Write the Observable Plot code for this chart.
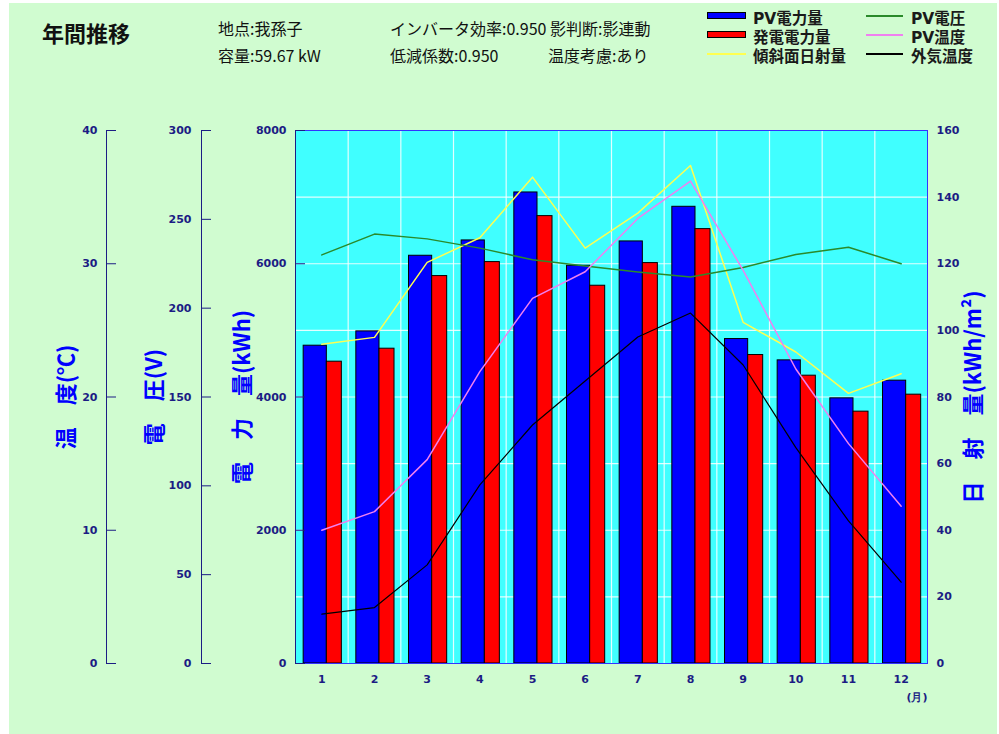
<!DOCTYPE html>
<html><head><meta charset="utf-8">
<script src="https://cdn.jsdelivr.net/npm/d3@7"></script>
<script src="https://cdn.jsdelivr.net/npm/@observablehq/plot@0.6"></script>
<style>
html,body{margin:0;padding:0;background:#fff;overflow:hidden;}
#wrap{position:relative;width:999px;height:734px;overflow:hidden;font-family:"Noto Sans CJK JP","Noto Sans",sans-serif;}
#bg{position:absolute;left:9px;top:3px;width:988px;height:731px;background:#d0fcd0;}
.layer{position:absolute;left:0;top:0;}
.t{position:absolute;white-space:nowrap;line-height:1;color:#111;}
.lg{position:absolute;white-space:nowrap;line-height:1;color:#1a1a1a;font-family:"DejaVu Sans","Noto Sans CJK JP",sans-serif;font-weight:bold;font-size:15.5px;}
.ylab{position:absolute;white-space:nowrap;line-height:1;color:#0000ff;font-weight:bold;font-size:22px;transform:translate(-50%,-50%) rotate(-90deg);}
.sw{position:absolute;box-sizing:border-box;}
</style></head><body>
<div id="wrap">
<div id="bg"></div>
<div class="t" style="left:42px;top:21px;font-size:22px;font-weight:bold">年間推移</div>
<div class="t" style="left:218px;top:20px;font-size:16px">地点:我孫子</div>
<div class="t" style="left:218px;top:47px;font-size:16px">容量:59.67 kW</div>
<div class="t" style="left:390px;top:20px;font-size:16px">インバータ効率:0.950 影判断:影連動</div>
<div class="t" style="left:390px;top:47px;font-size:16px">低減係数:0.950</div>
<div class="t" style="left:548px;top:47px;font-size:16px">温度考慮:あり</div>
</div>
<script>
// ---- data ----
const months = [1, 2, 3, 4, 5, 6, 7, 8, 9, 10, 11, 12];
const pvPower = [4770, 4985, 6120, 6350, 7070, 5970, 6335, 6855, 4870, 4550, 3980, 4245];      // PV電力量 kWh
const genPower = [4530, 4725, 5815, 6025, 6715, 5670, 6010, 6520, 4630, 4320, 3780, 4035];     // 発電電力量 kWh
const irradiance = [95.8, 97.9, 120.4, 127.8, 146.0, 124.7, 135.2, 149.5, 102.4, 93.5, 81.1, 87.0]; // 傾斜面日射量 kWh/m2
const pvVoltage = [230.0, 241.7, 239.0, 233.8, 227.2, 223.7, 220.3, 217.5, 222.9, 230.2, 234.3, 225.0]; // PV電圧 V
const pvTemp = [10.0, 11.4, 15.3, 21.9, 27.4, 29.4, 33.4, 36.2, 29.5, 22.1, 16.5, 11.8];       // PV温度 ℃
const airTemp = [3.7, 4.2, 7.4, 13.4, 17.9, 21.2, 24.5, 26.3, 22.4, 16.2, 10.7, 6.1];          // 外気温度 ℃

const powerTicks = [0, 2000, 4000, 6000, 8000];
const voltTicks = [0, 50, 100, 150, 200, 250, 300];
const tempTicks = [0, 10, 20, 30, 40];
const irrTicks = [0, 20, 40, 60, 80, 100, 120, 140, 160];

const legendLabels = [["PV電力量", "発電電力量", "傾斜面日射量"], ["PV電圧", "PV温度", "外気温度"]];
const axisTitles = ["温　度(℃)", "電　圧(V)", "電　力　量(kWh)", "日　射　量(kWh/m²)"];

const table = months.map((m, i) => ({
  month: m, pv: pvPower[i], gen: genPower[i], irr: irradiance[i],
  volt: pvVoltage[i], ptemp: pvTemp[i], atemp: airTemp[i]
}));

// ---- layout ----
const W = 999, H = 734, MT = 130, MB = 71, PL = 295, PR = 72;
const NAVY = "#1c1c84";
const style = {background: "transparent", color: NAVY, fontFamily: "DejaVu Sans, sans-serif",
  fontSize: "11px", fontWeight: "bold", overflow: "visible"};
const xOpt = {type: "linear", domain: [0.5, 12.5], label: null};
const wrap = document.getElementById("wrap");
function addLayer(el) { el.classList.add("layer"); wrap.appendChild(el); }
const fmt = d => String(d);

// main: bars + grid + x axis
addLayer(Plot.plot({
  width: W, height: H, marginTop: MT, marginBottom: MB, marginLeft: PL, marginRight: PR,
  style, x: xOpt, y: {domain: [0, 8000], axis: null, label: null},
  marks: [
    Plot.frame({fill: "#40ffff"}),
    Plot.ruleY(d3.range(1000, 8000, 1000), {stroke: "#ffffff", strokeWidth: 1.2, strokeOpacity: 0.85}),
    Plot.ruleX(d3.range(1.5, 12.5, 1), {stroke: "#ffffff", strokeWidth: 1.2, strokeOpacity: 0.85}),
    Plot.rect(table, {x1: d => d.month - 0.345, x2: d => d.month + 0.095, y1: 0, y2: "pv",
      fill: "#0000ff", stroke: "#000", strokeWidth: 1}),
    Plot.rect(table, {x1: d => d.month + 0.095, x2: d => d.month + 0.38, y1: 0, y2: "gen",
      fill: "#ff0000", stroke: "#000", strokeWidth: 1}),
    Plot.axisX(months, {tickSize: 0, tickPadding: 12, tickFormat: fmt, label: null}),
    Plot.text(["(月)"], {frameAnchor: "bottom-right", dy: 34, lineAnchor: "middle", fill: NAVY})
  ]
}));

// irradiance line + right axis
addLayer(Plot.plot({
  width: W, height: H, marginTop: MT, marginBottom: MB, marginLeft: PL, marginRight: PR,
  style, x: {...xOpt, axis: null}, y: {domain: [0, 160], axis: null, label: null},
  marks: [
    Plot.axisY(irrTicks, {anchor: "right", tickSize: 0, tickPadding: 9, tickFormat: fmt, label: null}),
    Plot.line(table, {x: "month", y: "irr", stroke: "#ffff50", strokeWidth: 1.5})
  ]
}));
// voltage line
addLayer(Plot.plot({
  width: W, height: H, marginTop: MT, marginBottom: MB, marginLeft: PL, marginRight: PR,
  style, x: {...xOpt, axis: null}, y: {domain: [0, 300], axis: null, label: null},
  marks: [Plot.line(table, {x: "month", y: "volt", stroke: "#2a8a2a", strokeWidth: 1.5})]
}));
// temperature lines
addLayer(Plot.plot({
  width: W, height: H, marginTop: MT, marginBottom: MB, marginLeft: PL, marginRight: PR,
  style, x: {...xOpt, axis: null}, y: {domain: [0, 40], axis: null, label: null},
  marks: [
    Plot.line(table, {x: "month", y: "ptemp", stroke: "#f080f0", strokeWidth: 1.5}),
    Plot.line(table, {x: "month", y: "atemp", stroke: "#000000", strokeWidth: 1.2})
  ]
}));
// plot border on top
addLayer(Plot.plot({
  width: W, height: H, marginTop: MT, marginBottom: MB, marginLeft: PL, marginRight: PR,
  style, x: {...xOpt, axis: null}, y: {domain: [0, 8000], axis: null, label: null},
  marks: [Plot.frame({stroke: "#3333ff"})]
}));

// left side axes
function sideAxis(left, domain, ticks, pad) {
  return Plot.plot({
    width: W, height: H, marginTop: MT, marginBottom: MB, marginLeft: left, marginRight: W - left - 10,
    style, x: {domain: [0, 1], axis: null, label: null}, y: {domain, axis: null, label: null},
    marks: [
      Plot.ruleX([0], {stroke: NAVY}),
      Plot.tickY(ticks, {y: d => d, stroke: NAVY}),
      Plot.axisY(ticks, {anchor: "left", tickSize: 0, tickPadding: pad, tickFormat: fmt, label: null})
    ]
  });
}
addLayer(sideAxis(106, [0, 40], tempTicks, 9));
addLayer(sideAxis(201, [0, 300], voltTicks, 10));
addLayer(sideAxis(PL, [0, 8000], powerTicks, 9));

// axis titles
const titleX = [64, 152, 240, 971];
axisTitles.forEach((t, i) => {
  const d = document.createElement("div");
  d.className = "ylab";
  d.textContent = t;
  d.style.left = titleX[i] + "px";
  d.style.top = (MT + (H - MB - MT) / 2) + "px";
  wrap.appendChild(d);
});

// legend
const legendStyles = [
  [{type: "box", color: "#0000ff"}, {type: "box", color: "#ff0000"}, {type: "line", color: "#ffff50"}],
  [{type: "line", color: "#2a8a2a"}, {type: "line", color: "#f080f0"}, {type: "line", color: "#000000"}]
];
const colSwX = [707, 866], colSwW = [39, 37], colTextX = [753, 911];
legendLabels.forEach((col, c) => col.forEach((label, r) => {
  const cy = 20 + r * 19;
  const st = legendStyles[c][r];
  const sw = document.createElement("div");
  sw.className = "sw";
  sw.style.left = colSwX[c] + "px";
  sw.style.width = colSwW[c] + "px";
  if (st.type === "box") {
    sw.style.top = (cy - 8) + "px"; sw.style.height = "7px";
    sw.style.background = st.color; sw.style.border = "1px solid #000";
  } else {
    sw.style.top = (cy - 5) + "px"; sw.style.height = "1.5px";
    sw.style.background = st.color;
  }
  wrap.appendChild(sw);
  const tx = document.createElement("div");
  tx.className = "lg";
  tx.style.left = colTextX[c] + "px";
  tx.style.top = (cy - 8) + "px";
  tx.textContent = label;
  wrap.appendChild(tx);
}));
</script>
</body></html>
